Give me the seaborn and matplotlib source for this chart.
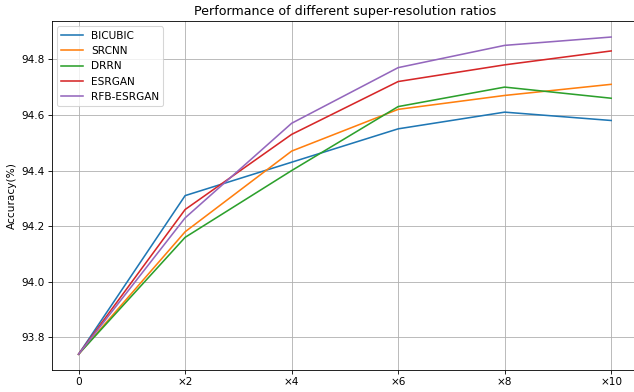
import matplotlib
matplotlib.use("Agg")
import matplotlib.pyplot as plt
import seaborn as sns
import pandas as pd

ratios = [0, 2, 4, 6, 8, 10]
tick_labels = ["0", "×2", "×4", "×6", "×8", "×10"]
methods = ["BICUBIC", "SRCNN", "DRRN", "ESRGAN", "RFB-ESRGAN"]
bicubic = [93.74, 94.31, 94.43, 94.55, 94.61, 94.58]
srcnn = [93.74, 94.18, 94.47, 94.62, 94.67, 94.71]
drrn = [93.74, 94.16, 94.40, 94.63, 94.70, 94.66]
esrgan = [93.74, 94.26, 94.53, 94.72, 94.78, 94.83]
rfb_esrgan = [93.74, 94.23, 94.57, 94.77, 94.85, 94.88]

series = [bicubic, srcnn, drrn, esrgan, rfb_esrgan]
rows = []
for m, vals in zip(methods, series):
    for r, v in zip(ratios, vals):
        rows.append({"ratio": r, "acc": v, "method": m})
df = pd.DataFrame(rows)

DPI = 76
fig = plt.figure(figsize=(634 / DPI, 392 / DPI), dpi=DPI)
ax = fig.add_axes([0.082, 0.056, 0.924, 0.890])
sns.lineplot(data=df, x="ratio", y="acc", hue="method", hue_order=methods,
             palette="tab10", ax=ax, linewidth=1.5, errorbar=None)
ax.set_xticks(ratios)
ax.set_xticklabels(tick_labels)
ax.set_xlabel("")
ax.set_ylabel("Accuracy(%)")
ax.set_title("Performance of different super-resolution ratios")
ax.grid(True, color="#b0b0b0", linewidth=0.8)
ax.legend(loc="upper left", title=None)
fig.savefig("out.png", dpi=DPI)
